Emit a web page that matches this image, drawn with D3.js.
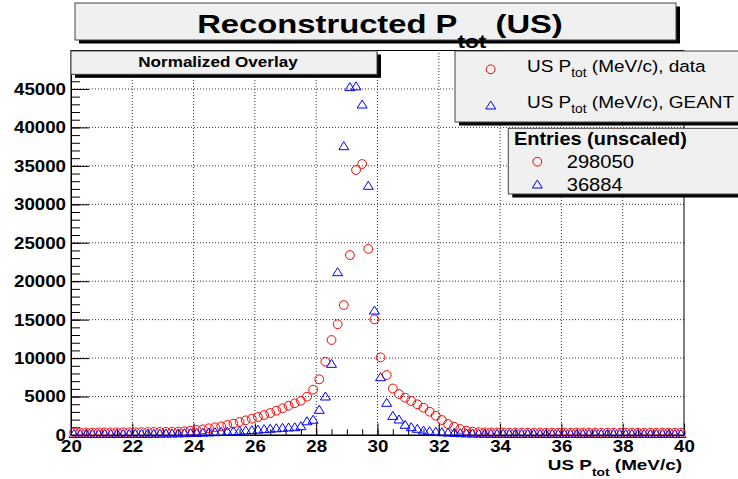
<!DOCTYPE html>
<html><head><meta charset="utf-8">
<script src="https://cdn.jsdelivr.net/npm/d3@7"></script>
<style>
html,body{margin:0;padding:0;background:#fff;}
svg{display:block;font-family:"Liberation Sans",Arial,Helvetica,sans-serif;}
</style>
</head><body>
<svg id="c" width="738" height="479"></svg>
<script>
// ---- data ----
const xRange = [20, 40];
const binWidth = 0.2;
const dataCounts = [
  330,320,330,320,330,340,330,340,350,350,
  360,370,380,390,400,410,420,440,480,560,
  650,740,870,1000,1130,1300,1470,1690,1910,2120,
  2340,2600,2860,3160,3470,3810,4120,4450,4980,5900,
  7240,9530,12350,14400,16900,23400,34460,35240,24200,15040,
  10100,7800,6050,5330,4850,4420,3990,3550,3030,2510,
  1950,1430,1080,780,560,430,370,340,330,320,
  320,310,320,310,300,310,320,300,310,300,
  310,300,320,300,310,300,300,310,300,290,
  300,310,290,300,300,290,300,310,290,300
];
const geantCounts = [
  200,190,210,200,190,210,200,220,200,210,
  220,210,230,220,240,250,260,280,300,320,
  340,370,400,430,470,510,550,600,650,700,
  760,820,880,940,1000,1050,1080,1210,1850,2050,
  3340,5070,9320,21240,37620,45300,45400,43040,32470,16250,
  7580,4250,2550,2080,1390,1080,870,650,560,480,
  420,380,340,300,280,260,240,230,220,210,
  220,200,210,200,220,210,200,190,210,200,
  200,210,190,200,210,200,190,200,210,200,
  190,200,210,200,190,200,210,200,190,200
];
const xTickValues = [20,22,24,26,28,30,32,34,36,38,40];
const yTickValues = [0,5000,10000,15000,20000,25000,30000,35000,40000,45000];
const yMax = 50000;
const titleParts = ["Reconstructed P", {sub:"tot"}, " (US)"];
const xTitleParts = ["US P", {sub:"tot"}, " (MeV/c)"];
const legendEntries = [
  {parts:["US P", {sub:"tot"}, " (MeV/c), data"], series:"data"},
  {parts:["US P", {sub:"tot"}, " (MeV/c), GEANT"], series:"geant"}
];
const entriesTitle = "Entries (unscaled)";
const entriesCounts = [{label:"298050", series:"data"}, {label:"36884", series:"geant"}];
const overlayLabel = "Normalized Overlay";

// ---- drawing ----
const svg = d3.select("#c");
const SX = 1.17;
const L = 71, R = 684, B = 435, T = 50.5;
const x = d3.scaleLinear().domain(xRange).range([L, R]);
const y = d3.scaleLinear().domain([0, yMax]).range([B, T]);
const centers = d3.range(dataCounts.length).map(i => xRange[0] + binWidth*(i+0.5));

function stext(parent, px, py, parts, o) {
  const g = parent.append("g").attr("transform", `translate(${px},${py}) scale(${o.sx||SX},1)`);
  const t = g.append("text").attr("text-anchor", o.anchor||"start")
    .style("font-size", o.size+"px").style("font-weight", o.weight||"normal").attr("fill", o.fill||"#000");
  let prev = 0;
  parts.forEach(p => {
    if (typeof p === "string") {
      t.append("tspan").attr("dy", -prev).text(p); prev = 0;
    } else {
      t.append("tspan").attr("dy", o.subDy - prev).style("font-size", o.subSize+"px").text(p.sub); prev = o.subDy;
    }
  });
  return g;
}

const triPath = (w,h) => `M0,${-h/2}L${w/2},${h/2}L${-w/2},${h/2}Z`;
function marker(g, series, cx, cy) {
  if (series === "data") {
    g.append("circle").attr("cx", cx).attr("cy", cy).attr("r", 4.4)
      .attr("fill", "none").attr("stroke", "#ff0000").attr("stroke-width", 1);
  } else {
    g.append("path").attr("d", triPath(10, 8)).attr("transform", `translate(${cx},${cy})`)
      .attr("fill", "none").attr("stroke", "#0000ff").attr("stroke-width", 1);
  }
}

// grid
const grid = svg.append("g").attr("stroke", "#333").attr("stroke-width", 1).attr("stroke-dasharray", "1,2");
xTickValues.filter(v => v > xRange[0] && v < xRange[1]).forEach(v => {
  grid.append("line").attr("x1", x(v)).attr("x2", x(v)).attr("y1", B).attr("y2", T);
});
yTickValues.filter(v => v > 0).forEach(v => {
  grid.append("line").attr("x1", L).attr("x2", R).attr("y1", y(v)).attr("y2", y(v));
});

// frame
svg.append("rect").attr("x", L).attr("y", T).attr("width", R-L).attr("height", B-T)
  .attr("fill", "none").attr("stroke", "#000").attr("stroke-width", 1);

// axes
const xMinor = svg.append("g").attr("transform", `translate(0,${B})`)
  .call(d3.axisBottom(x).tickValues(d3.range(20, 40.001, 0.5)).tickSize(-5.8).tickSizeOuter(0).tickFormat(""));
const xAxis = svg.append("g").attr("transform", `translate(0,${B})`)
  .call(d3.axisBottom(x).tickValues(xTickValues).tickSize(-11.5).tickSizeOuter(0).tickFormat(d3.format("d")));
const yMinor = svg.append("g").attr("transform", `translate(${L},0)`)
  .call(d3.axisLeft(y).tickValues(d3.range(0, yMax+1, 1000)).tickSize(-9).tickSizeOuter(0).tickFormat(""));
const yAxis = svg.append("g").attr("transform", `translate(${L},0)`)
  .call(d3.axisLeft(y).tickValues(yTickValues).tickSize(-18).tickSizeOuter(0).tickFormat(d3.format("d")));
[xMinor, xAxis, yMinor, yAxis].forEach(a => {
  a.selectAll("line").attr("stroke", "#000");
  a.select(".domain").attr("stroke", "#000");
});
xAxis.selectAll("text").attr("y", 17.3).attr("dy", null)
  .attr("transform", `scale(${SX},1)`)
  .style("font-size", "16px").style("font-weight", "bold").attr("fill", "#000")
  .style("font-family", '"Liberation Sans",Arial,sans-serif');
yAxis.selectAll("text").attr("x", -5/SX).attr("dy", "0.34em")
  .attr("transform", `scale(${SX},1)`)
  .style("font-size", "16px").style("font-weight", "bold").attr("fill", "#000")
  .style("font-family", '"Liberation Sans",Arial,sans-serif');

// axis title
stext(svg, 682, 470, xTitleParts, {size:15, weight:"bold", anchor:"end", subSize:11, subDy:5.5, sx:1.26});

// markers
const mk = svg.append("g");
dataCounts.forEach((v,i) => marker(mk, "data", x(centers[i]), y(v)));
geantCounts.forEach((v,i) => marker(mk, "geant", x(centers[i]), y(v)));

// boxes
function box(x0, y0, w, h) {
  svg.append("rect").attr("x", x0+4).attr("y", y0+3.5).attr("width", w).attr("height", h).attr("fill", "#000");
  svg.append("rect").attr("x", x0).attr("y", y0).attr("width", w).attr("height", h)
    .attr("fill", "#f0f0f0").attr("stroke", "#444").attr("stroke-width", 1);
}

// title
box(75, 3, 601, 37);
stext(svg, 380, 33, titleParts, {size:26, weight:"bold", anchor:"middle", subSize:18, subDy:15, sx:1.26});

// normalized overlay
box(71, 51, 306, 23.3);
stext(svg, 218, 67.3, [overlayLabel], {size:14, weight:"bold", anchor:"middle", sx:1.22});

// legend
box(455, 51, 300, 71);
const legY = [69.3, 105];
legendEntries.forEach((e,i) => {
  marker(svg, e.series, 490.7, legY[i]);
  stext(svg, 527, legY[i]+3, e.parts, {size:16.5, subSize:12, subDy:5, sx:1.15});
});

// entries
box(508.3, 128.3, 250, 65.7);
stext(svg, 514, 145, [entriesTitle], {size:17.5, weight:"bold", sx:1.14});
const entY = [161.7, 184];
entriesCounts.forEach((e,i) => {
  marker(svg, e.series, 537.3, entY[i]);
  stext(svg, 566.7, entY[i]+6.5, [e.label], {size:18, sx:1.12});
});
</script>
</body></html>
